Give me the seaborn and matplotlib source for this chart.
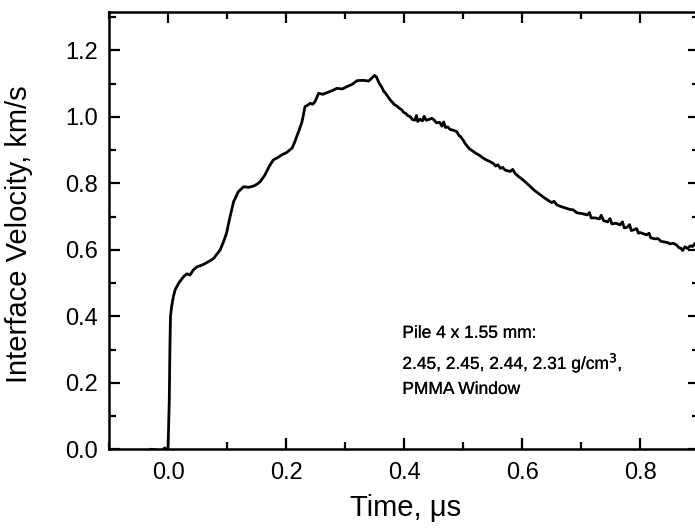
import pandas as pd
import seaborn as sns
import matplotlib.pyplot as plt
import matplotlib.patheffects as pe
from matplotlib.ticker import MultipleLocator

time_us = [-0.030, -0.020, -0.012, -0.006, -0.002, 0.000, 0.002, 0.003, 0.004, 0.006,
           0.009, 0.012, 0.018, 0.026, 0.032, 0.037, 0.043, 0.049, 0.056, 0.063,
           0.070, 0.077, 0.083, 0.088, 0.094, 0.099, 0.105, 0.111, 0.119, 0.128,
           0.136, 0.145, 0.151, 0.156, 0.164, 0.171, 0.178, 0.186, 0.193, 0.201,
           0.210, 0.214, 0.218, 0.223, 0.227, 0.232, 0.237, 0.241, 0.245, 0.249,
           0.255, 0.262, 0.269, 0.278, 0.286, 0.295, 0.303, 0.312, 0.320, 0.330,
           0.340, 0.346, 0.350, 0.353,
           0.358, 0.362, 0.365, 0.369, 0.372, 0.376, 0.379, 0.383, 0.388, 0.392,
           0.396, 0.399, 0.403, 0.406, 0.410, 0.414, 0.418, 0.421, 0.423, 0.427,
           0.431, 0.434, 0.437, 0.442, 0.447, 0.451, 0.455, 0.460, 0.464, 0.467,
           0.470, 0.474, 0.478, 0.483, 0.489, 0.493, 0.496, 0.500, 0.503, 0.507,
           0.510, 0.514, 0.517, 0.522, 0.528, 0.534, 0.540, 0.545, 0.551, 0.555,
           0.559, 0.563, 0.567, 0.571, 0.575, 0.580, 0.584, 0.588, 0.593, 0.598,
           0.603, 0.608, 0.614, 0.620, 0.626, 0.631, 0.638, 0.645, 0.650, 0.654,
           0.659, 0.666, 0.673, 0.680, 0.687, 0.692, 0.698, 0.704, 0.710, 0.714,
           0.717, 0.724, 0.731, 0.734, 0.738, 0.745, 0.749, 0.752, 0.759, 0.766,
           0.770, 0.773, 0.778, 0.782, 0.785, 0.789, 0.794, 0.797, 0.800, 0.806,
           0.811, 0.815, 0.818, 0.825, 0.830, 0.835, 0.840, 0.846, 0.851, 0.856,
           0.862, 0.866, 0.869, 0.872, 0.876, 0.880, 0.885, 0.889, 0.893]
velocity = [0.000, -0.002, -0.010, 0.004, -0.015, 0.010, 0.150, 0.300, 0.400, 0.430,
            0.460, 0.480, 0.500, 0.519, 0.528, 0.524, 0.540, 0.549, 0.553, 0.559,
            0.566, 0.574, 0.588, 0.599, 0.625, 0.650, 0.700, 0.745, 0.775, 0.790,
            0.788, 0.792, 0.798, 0.805, 0.825, 0.850, 0.870, 0.878, 0.886, 0.893,
            0.906, 0.922, 0.941, 0.965, 0.986, 1.031, 1.036, 1.041, 1.038, 1.046,
            1.071, 1.068, 1.073, 1.079, 1.086, 1.084, 1.091, 1.098, 1.109, 1.110,
            1.108, 1.118, 1.125, 1.120,
            1.100, 1.090, 1.078, 1.070, 1.062, 1.052, 1.046, 1.038, 1.032, 1.026,
            1.021, 1.014, 1.010, 1.004, 1.001, 0.992, 0.990, 1.004, 0.986, 0.993,
            0.988, 1.002, 0.990, 0.992, 0.996, 0.990, 0.982, 0.984, 0.972, 0.985,
            0.968, 0.970, 0.962, 0.960, 0.956, 0.944, 0.940, 0.930, 0.921, 0.912,
            0.905, 0.900, 0.896, 0.890, 0.884, 0.876, 0.870, 0.866, 0.860, 0.852,
            0.856, 0.845, 0.848, 0.840, 0.838, 0.836, 0.842, 0.830, 0.822, 0.815,
            0.808, 0.800, 0.790, 0.780, 0.772, 0.765, 0.756, 0.748, 0.742, 0.746,
            0.735, 0.730, 0.726, 0.722, 0.720, 0.712, 0.710, 0.708, 0.705, 0.712,
            0.696, 0.696, 0.693, 0.704, 0.688, 0.684, 0.694, 0.678, 0.680, 0.675,
            0.684, 0.666, 0.668, 0.676, 0.658, 0.660, 0.664, 0.650, 0.652, 0.648,
            0.645, 0.650, 0.636, 0.633, 0.634, 0.626, 0.624, 0.622, 0.618, 0.620,
            0.614, 0.606, 0.605, 0.598, 0.609, 0.604, 0.612, 0.610, 0.620]

df = pd.DataFrame({"t": time_us, "v": velocity})

sns.set_style("ticks")
plt.rcParams['font.family'] = ['Liberation Sans', 'DejaVu Sans']
plt.rcParams['text.color'] = 'black'
plt.rcParams['axes.labelcolor'] = 'black'

fig = plt.figure(figsize=(6.95, 5.31), dpi=100)
ax = fig.add_axes([0.157, 0.154, 0.849, 0.823])

sns.lineplot(data=df, x="t", y="v", ax=ax, color="black", linewidth=2.0,
             sort=False, estimator=None)

ax.set_xlim(-0.1, 0.9)
ax.set_ylim(0, 1.315)
ax.xaxis.set_major_locator(MultipleLocator(0.2))
ax.xaxis.set_minor_locator(MultipleLocator(0.1))
ax.yaxis.set_major_locator(MultipleLocator(0.2))
ax.yaxis.set_minor_locator(MultipleLocator(0.1))
ax.set_xticks([0.0, 0.2, 0.4, 0.6, 0.8])
ax.set_xticklabels(["0.0", "0.2", "0.4", "0.6", "0.8"])
ax.tick_params(which="both", direction="in", top=True, right=True, width=1.6,
               labelsize=17, colors="black", pad=8)
ax.tick_params(axis="x", pad=9)
ax.tick_params(which="major", length=8)
ax.tick_params(which="minor", length=5)
for s in ax.spines.values():
    s.set_linewidth(1.8)
    s.set_color("black")

ax.set_xlabel("Time, \u03bcs", fontsize=21)
ax.set_ylabel("Interface Velocity, km/s", fontsize=21)
ax.xaxis.set_label_coords(0.503, -0.103)
ax.yaxis.set_label_coords(-0.129, 0.492)

note = dict(fontsize=12.5, ha="left", va="center",
            path_effects=[pe.withStroke(linewidth=0.15, foreground="black")])
ax.text(0.397, 0.349, "Pile 4 x 1.55 mm:", **note)
ax.text(0.397, 0.261, "2.45, 2.45, 2.44, 2.31 g/cm$^3$,", **note)
ax.text(0.397, 0.180, "PMMA Window", **note)

fig.savefig("out.png", dpi=100)
